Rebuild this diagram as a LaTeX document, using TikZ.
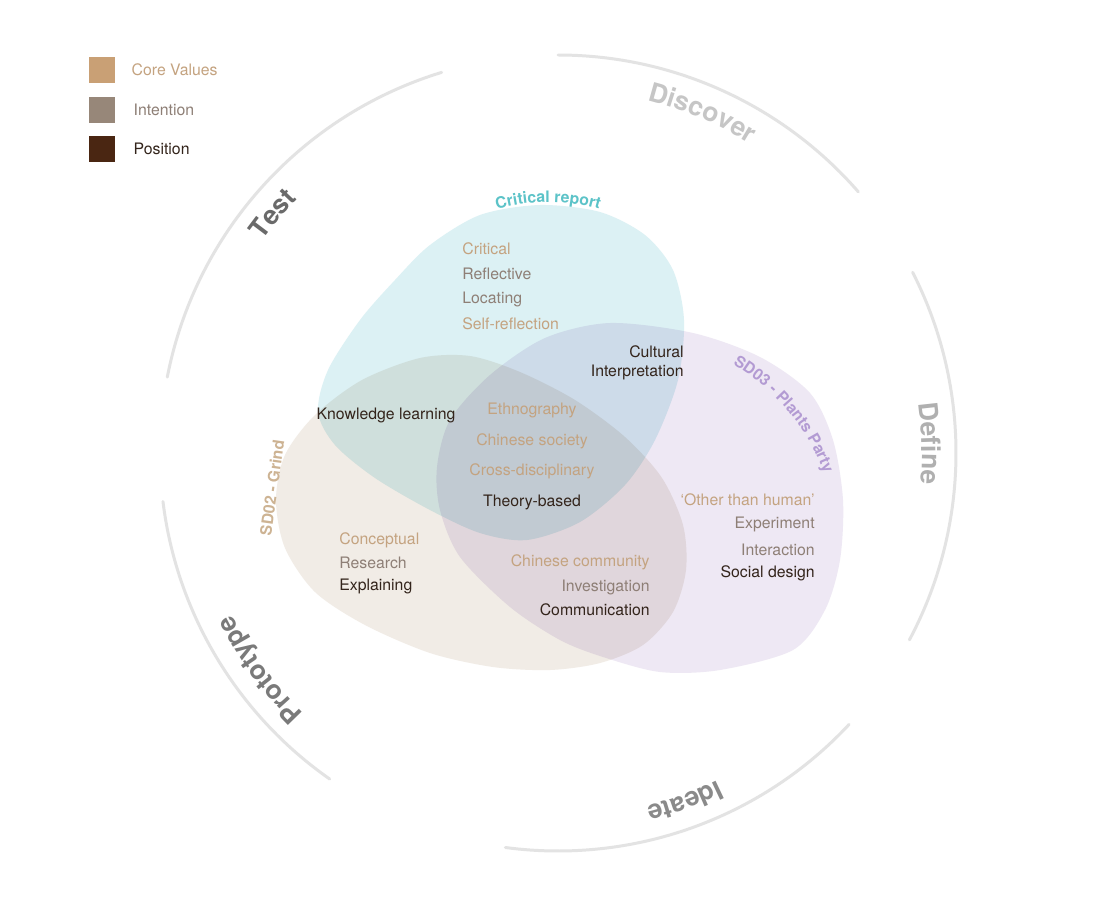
\documentclass[tikz,border=0pt]{standalone}
\usepackage{fontspec}
\setmainfont{TeX Gyre Heros}
\usetikzlibrary{positioning, decorations.text}
\definecolor{corec}{HTML}{C9A075}
\definecolor{coret}{HTML}{C4A380}
\definecolor{intc}{HTML}{978779}
\definecolor{intt}{HTML}{8E7F76}
\definecolor{posc}{HTML}{4A2612}
\definecolor{post}{HTML}{33241B}
\definecolor{ringc}{HTML}{E3E3E3}
\definecolor{repc}{HTML}{5CC3C8}
\definecolor{plac}{HTML}{B39BD3}
\definecolor{grnc}{HTML}{CDB393}
\definecolor{cyanb}{HTML}{DCF1F4}
\definecolor{beigeb}{HTML}{F1ECE6}
\definecolor{lilacb}{HTML}{EEE8F4}
\definecolor{phA}{HTML}{C6C6C6}
\definecolor{phB}{HTML}{B0B0B0}
\definecolor{phC}{HTML}{8A8A8A}
\definecolor{phD}{HTML}{7A7A7A}
\definecolor{phE}{HTML}{6A6A6A}

\begin{document}
\begin{tikzpicture}[x=0.02cm, y=0.02cm,
    every node/.style={inner sep=0pt, font=\fontsize{9}{11}\selectfont},
    ring/.style={draw=ringc, line width=1.7pt, line cap=round},
    blob/.style={blend mode=multiply},
    core/.style={text=coret}, intent/.style={text=intt}, posn/.style={text=post},
    swatch/.style={minimum size=0.52cm}]
    \fill[white] (-558,-464) rectangle (553,453);

    % legend
    \node[swatch, fill=corec] (sqcore) at (-456,383) {};
    \node[swatch, fill=intc] (sqint) at (-456,343) {};
    \node[swatch, fill=posc] (sqpos) at (-456,304) {};
    \node[core, right=0.32cm of sqcore] (lgcore) {Core Values};
    \node[intent, right=0.36cm of sqint] (lgint) {Intention};
    \node[posn, right=0.36cm of sqpos] (lgpos) {Position};

    % outer ring
    \foreach \s/\e in {90/41, 27/-28, -43/-97.6, 187/235, 107/169}
      \draw[ring] (\s:398) arc[start angle=\s, end angle=\e, radius=398];
    \path[decorate, decoration={text along path, text align=center,
        text={|\fontsize{15}{18}\selectfont\bfseries\color{phA}|Discover}}]
      (112:364) arc[start angle=112, end angle=22, radius=364];
    \path[decorate, decoration={text along path, text align=center,
        text={|\fontsize{15}{18}\selectfont\bfseries\color{phB}|Define}}]
      (46.5:364) arc[start angle=46.5, end angle=-43.5, radius=364];
    \path[decorate, decoration={text along path, text align=center,
        text={|\fontsize{15}{18}\selectfont\bfseries\color{phC}|Ideate}}]
      (-25:364) arc[start angle=-25, end angle=-115, radius=364];
    \path[decorate, decoration={text along path, text align=center,
        text={|\fontsize{15}{18}\selectfont\bfseries\color{phD}|Prototype}}]
      (261:364) arc[start angle=261, end angle=171, radius=364];
    \path[decorate, decoration={text along path, text align=center,
        text={|\fontsize{15}{18}\selectfont\bfseries\color{phE}|Test}}]
      (185:364) arc[start angle=185, end angle=95, radius=364];

    % three projects
    \fill[blob, cyanb] plot[smooth cycle] coordinates {(-128,208) (-78,238)
      (-18,248) (42,241) (87,218) (115,183) (126,133) (120,73) (97,13)
      (67,-32) (22,-69) (-31,-87) (-78,-80) (-128,-57) (-183,-25) (-223,8)
      (-240,41) (-230,83) (-198,133) (-163,173)};
    \fill[blob, beigeb] plot[smooth cycle] coordinates {(-138,95) (-88,97)
      (-38,81) (17,53) (67,16) (104,-25) (125,-72) (128,-117) (115,-159)
      (85,-192) (42,-210) (-8,-217) (-65,-214) (-128,-200) (-193,-172)
      (-243,-139) (-273,-95) (-282,-47) (-273,-2) (-243,38) (-196,73)};
    \fill[blob, lilacb] plot[smooth cycle] coordinates {(52,130) (135,120)
      (202,96) (252,60) (275,13) (285,-47) (282,-107) (267,-157) (235,-197)
      (162,-217) (102,-219) (45,-204) (2,-187) (-48,-154) (-98,-104)
      (-118,-57) (-121,-14) (-108,33) (-68,78) (-13,115)};

    \coordinate (repctr) at (-10,68);
    \coordinate (plactr) at (69,-93);
    \path[decorate, decoration={text along path, text align=center,
        text={|\fontsize{9}{11}\selectfont\bfseries\color{repc}|Critical report}}]
      ([shift={(130:183)}]repctr) arc[start angle=130, end angle=50, radius=183];
    \path[decorate, decoration={text along path, text align=center,
        text={|\fontsize{9}{11}\selectfont\bfseries\color{plac}|SD03 - Plants Party}}]
      ([shift={(80:210)}]plactr) arc[start angle=80, end angle=0, radius=210];
    \node[text=grnc, font=\fontsize{9}{11}\selectfont\bfseries, rotate=82]
      (grind) at (-286,-35) {SD02 - Grind};

    % critical report
    \node[core, anchor=west] (crit) at (-96,204) {Critical};
    \node[intent, anchor=west] (refl) at (-96,179) {Reflective};
    \node[intent, anchor=west] (loca) at (-96,154) {Locating};
    \node[core, anchor=west] (self) at (-96,129) {Self-reflection};
    \node[posn, anchor=east] (cult) at (126,101) {Cultural};
    \node[posn, anchor=east] (interp) at (126,81) {Interpretation};
    \node[posn] (know) at (-172,38) {Knowledge learning};
    % shared centre
    \node[core] (ethno) at (-26,43) {Ethnography};
    \node[core] (chsoc) at (-26,12) {Chinese society};
    \node[core] (cross) at (-26,-18) {Cross-disciplinary};
    \node[posn] (theory) at (-26,-49) {Theory-based};
    % grind
    \node[core, anchor=west] (concept) at (-219,-87) {Conceptual};
    \node[intent, anchor=west] (resrch) at (-219,-110) {Research};
    \node[posn, anchor=west] (explain) at (-219,-133) {Explaining};
    \node[core, anchor=east] (chcom) at (92,-109) {Chinese community};
    \node[intent, anchor=east] (invest) at (92,-134) {Investigation};
    \node[posn, anchor=east] (commu) at (92,-157) {Communication};
    % plants party
    \node[core, anchor=east] (other) at (257,-47) {‘Other than human’};
    \node[intent, anchor=east] (exper) at (257,-71) {Experiment};
    \node[intent, anchor=east] (inter) at (257,-97) {Interaction};
    \node[posn, anchor=east] (social) at (257,-120) {Social design};
\end{tikzpicture}
\end{document}
